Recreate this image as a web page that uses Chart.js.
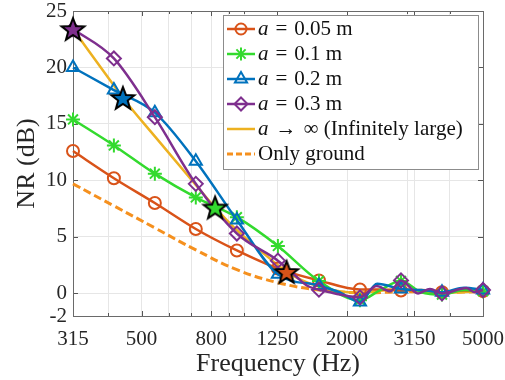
<!DOCTYPE html>
<html><head><meta charset="utf-8">
<script src="https://cdn.jsdelivr.net/npm/chart.js@4.4.1/dist/chart.umd.min.js"></script>
<style>html,body{margin:0;padding:0;background:#fff;overflow:hidden}</style>
</head><body>
<canvas id="c" width="505" height="380"></canvas>
<script>
// ---------- data ----------
const markerFreqs = [315, 415, 547, 721, 951, 1254, 1654, 2181, 2876, 3792, 5000];
const xTickLabels = [315, 500, 800, 1250, 2000, 3150, 5000];
const gridFreqs = [315, 400, 500, 600, 700, 800, 900, 1000, 1250, 2000, 3000, 3150, 4000, 5000];
const yTicks = [-2, 0, 5, 10, 15, 20, 25];

const freqA005 = [315, 415, 547, 721, 951, 1254, 1654, 2181, 2500, 2876, 3300, 3792, 4400, 5000];
const nrA005   = [12.6, 10.2, 8.0, 5.7, 3.8, 2.2, 1.15, 0.35, 0.35, 0.25, 0.3, 0.1, 0.25, 0.2];

const freqA01 = [315, 415, 547, 721, 951, 1254, 1654, 2181, 2500, 2876, 3300, 3792, 4400, 5000];
const nrA01   = [15.4, 13.1, 10.6, 8.5, 6.75, 4.2, 1.1, -0.6, 0.3, 1.1, 0.1, -0.1, 0.3, 0.2];

const freqA02 = [315, 415, 547, 721, 951, 1254, 1654, 1900, 2181, 2450, 2876, 3300, 3792, 4400, 5000];
const nrA02   = [20.0, 18.0, 16.0, 11.7, 6.5, 1.7, 0.7, 0.1, -0.75, 0.85, 0.4, 0.3, 0.1, 0.5, 0.3];

const freqA03 = [315, 415, 547, 721, 951, 1254, 1424, 1523, 1654, 1782, 1906, 2181, 2441, 2671, 2876, 3226, 3497, 3792, 4474, 4738, 5000];
const nrA03   = [23.4, 20.8, 15.6, 9.7, 5.3, 2.9, 1.45, 0.7, 0.33, 0.1, -0.1, -0.35, 0.65, 0.18, 1.15, 0.0, 0.4, 0.0, 0.47, 0.1, 0.3];

const freqInf = [315, 415, 441, 547, 721, 821, 951, 1254, 1330, 1654, 2181, 2876, 3792, 5000];
const nrInf   = [23.4, 18.4, 17.3, 13.9, 9.6, 7.6, 5.6, 2.5, 1.9, 0.6, 0.05, 0.4, 0.05, 0.2];

const freqGround = [315, 415, 547, 721, 951, 1254, 1654, 2181, 2876, 3792, 5000];
const nrGround   = [9.7, 7.75, 5.8, 3.85, 2.1, 0.95, 0.3, 0.05, 0.15, 0.1, 0.15];

const starFreqs = [315, 441, 821, 1330];
const starNR    = [23.4, 17.3, 7.6, 1.9];

const legendLabels = ['a = 0.05 m', 'a = 0.1 m', 'a = 0.2 m', 'a = 0.3 m', 'a \u2192 \u221E (Infinitely large)', 'Only ground'];

// ---------- styles ----------
const C = {o:'#D95319', g:'#33DA2E', b:'#0072BD', p:'#7E2F8E', y:'#EDB120', gr:'#F5901E'};
const SERIF = "'Liberation Serif', 'DejaVu Serif', serif";

function pts(f, v){ return f.map((x,i)=>({x:x, y:v[i]})); }
function markR(r){ return ctx => (ctx.raw && markerFreqs.includes(ctx.raw.x)) ? r : 0; }

function makeStar(color){
  const s = 30, c = document.createElement('canvas'); c.width = s; c.height = s;
  const g = c.getContext('2d'); const R = 12, r = R*0.42;
  g.beginPath();
  for (let i=0;i<10;i++){ const a = -Math.PI/2 + i*Math.PI/5; const rr = i%2 ? r : R;
    g.lineTo(s/2 + rr*Math.cos(a), s/2 + 1 + rr*Math.sin(a)); }
  g.closePath(); g.fillStyle = color; g.fill();
  g.lineWidth = 2; g.strokeStyle = '#000'; g.lineJoin = 'miter'; g.stroke();
  return c;
}
const starImgs = [makeStar(C.p), makeStar(C.b), makeStar(C.g), makeStar(C.o)];

function series(label, f, v, color, style, r, order, extra){
  return Object.assign({
    label, data: pts(f, v), borderColor: color, backgroundColor: 'rgba(0,0,0,0)',
    borderWidth: 2.5, pointStyle: style, pointRadius: markR(r), pointBorderWidth: 2,
    pointBorderColor: color, pointBackgroundColor: 'rgba(0,0,0,0)',
    cubicInterpolationMode: 'monotone', clip: false, order
  }, extra || {});
}

const datasets = [
  {label:'stars', data: pts(starFreqs, starNR), showLine:false, pointStyle: starImgs, pointRadius: 10, clip:false, order:0},
  series(legendLabels[3], freqA03, nrA03, C.p, 'rectRot', 7, 1),
  series(legendLabels[2], freqA02, nrA02, C.b, 'triangle', 7, 2),
  series(legendLabels[1], freqA01, nrA01, C.g, 'star', 7, 3),
  series(legendLabels[0], freqA005, nrA005, C.o, 'circle', 6, 4),
  series(legendLabels[4], freqInf, nrInf, C.y, 'circle', 0, 5, {pointRadius:0}),
  series(legendLabels[5], freqGround, nrGround, C.gr, 'circle', 0, 6, {pointRadius:0, borderDash:[8,4], borderWidth:3, cubicInterpolationMode:'default', tension:0.4})
];

// ---------- plugins ----------
const framePlugin = {
  id: 'frame',
  beforeDatasetsDraw(chart){
    const {ctx, chartArea:a, scales:{x, y}} = chart;
    ctx.save();
    ctx.strokeStyle = '#555'; ctx.lineWidth = 1;
    ctx.beginPath();
    gridFreqs.forEach(f => {
      const px = Math.round(x.getPixelForValue(f)) + 0.5;
      const L = xTickLabels.includes(f) ? 5 : 3;
      ctx.moveTo(px, a.bottom); ctx.lineTo(px, a.bottom - L);
      ctx.moveTo(px, a.top); ctx.lineTo(px, a.top + L);
    });
    yTicks.forEach(v => {
      const py = Math.round(y.getPixelForValue(v)) + 0.5;
      ctx.moveTo(a.left, py); ctx.lineTo(a.left + 5, py);
      ctx.moveTo(a.right, py); ctx.lineTo(a.right - 5, py);
    });
    ctx.stroke();
    ctx.strokeStyle = '#6a6a6a';
    ctx.strokeRect(Math.round(a.left) + 0.5, Math.round(a.top) + 0.5, Math.round(a.right - a.left), Math.round(a.bottom - a.top));
    ctx.restore();
  }
};

function drawMarker(ctx, type, x, y, color){
  ctx.save(); ctx.strokeStyle = color; ctx.lineWidth = 2; ctx.beginPath();
  if (type === 'circle'){ ctx.arc(x, y, 5.5, 0, Math.PI*2); }
  else if (type === 'star'){ const r = 6.5;
    for (let k=0;k<4;k++){ const a = k*Math.PI/4; ctx.moveTo(x - r*Math.cos(a), y - r*Math.sin(a)); ctx.lineTo(x + r*Math.cos(a), y + r*Math.sin(a)); } }
  else if (type === 'triangle'){ const r = 7; ctx.moveTo(x, y - r); ctx.lineTo(x + r*0.866, y + r*0.5); ctx.lineTo(x - r*0.866, y + r*0.5); ctx.closePath(); }
  else if (type === 'rectRot'){ const r = 6.5; ctx.moveTo(x, y - r); ctx.lineTo(x + r, y); ctx.lineTo(x, y + r); ctx.lineTo(x - r, y); ctx.closePath(); }
  ctx.stroke(); ctx.restore();
}

const legendPlugin = {
  id: 'boxLegend',
  afterDatasetsDraw(chart){
    const {ctx, chartArea:a} = chart;
    const w = 255, h = 154;
    const left = Math.round(a.right - 5 - w), top = Math.round(a.top + 4);
    ctx.save();
    ctx.fillStyle = '#fff'; ctx.fillRect(left, top, w, h);
    ctx.strokeStyle = '#8c8c8c'; ctx.lineWidth = 1; ctx.strokeRect(left + 0.5, top + 0.5, w, h);
    const items = [
      {c:C.o, m:'circle'}, {c:C.g, m:'star'}, {c:C.b, m:'triangle'}, {c:C.p, m:'rectRot'},
      {c:C.y, m:null}, {c:C.gr, m:null, dash:true}
    ];
    items.forEach((it, i) => {
      const yy = top + 14 + i*25;
      ctx.save();
      ctx.strokeStyle = it.c; ctx.lineWidth = it.dash ? 3 : 2.5;
      if (it.dash) ctx.setLineDash([6, 3]);
      ctx.beginPath(); ctx.moveTo(left + 4, yy); ctx.lineTo(left + 32, yy); ctx.stroke();
      ctx.restore();
      if (it.m) drawMarker(ctx, it.m, left + 18, yy, it.c);
      const label = legendLabels[i];
      ctx.fillStyle = '#111'; ctx.textBaseline = 'middle'; ctx.textAlign = 'left';
      let tx = left + 35;
      if (label.startsWith('a ')){
        ctx.font = 'italic 21px ' + SERIF; ctx.fillText('a', tx, yy); tx += ctx.measureText('a').width;
        ctx.font = '21px ' + SERIF;
        const rest = label.slice(1).replace(/^ (\S) /, '\u2004$1\u2004');
        ctx.fillText(rest, tx, yy);
      } else {
        ctx.font = '21px ' + SERIF; ctx.fillText(label, tx, yy);
      }
    });
    ctx.restore();
  }
};

// ---------- chart ----------
new Chart(document.getElementById('c'), {
  type: 'line',
  data: { datasets },
  plugins: [framePlugin, legendPlugin],
  options: {
    responsive: false, animation: false, events: [],
    layout: { padding: { top: 10.5, right: 22, left: 0, bottom: 0 } },
    plugins: { legend: { display: false }, tooltip: { enabled: false } },
    scales: {
      x: {
        type: 'logarithmic', min: 315, max: 5000,
        afterBuildTicks(s){ s.ticks = gridFreqs.map(v => ({value: v})); },
        afterFit(s){ s.height = 64; s.paddingLeft = 0; s.paddingRight = 0; },
        ticks: { autoSkip: false, maxRotation: 0, minRotation: 0, padding: 11, color: '#262626',
          font: { family: SERIF, size: 21 },
          callback(v){ return xTickLabels.includes(v) ? String(v) : ''; } },
        grid: { color: '#e6e6e6', drawTicks: false },
        border: { display: false },
        title: { display: true, text: 'Frequency (Hz)', color: '#262626', font: { family: SERIF, size: 26 }, padding: { top: 0, bottom: 0 } }
      },
      y: {
        type: 'linear', min: -2, max: 25,
        afterBuildTicks(s){ s.ticks = yTicks.map(v => ({value: v})); },
        afterFit(s){ s.width = 73; s.paddingTop = 0; s.paddingBottom = 0; },
        ticks: { padding: 6, color: '#262626', font: { family: SERIF, size: 21 } },
        grid: { color: '#e6e6e6', drawTicks: false },
        border: { display: false },
        title: { display: true, text: 'NR (dB)', color: '#262626', font: { family: SERIF, size: 26 }, padding: { top: 12, bottom: 0 } }
      }
    }
  }
});
</script>
</body></html>
